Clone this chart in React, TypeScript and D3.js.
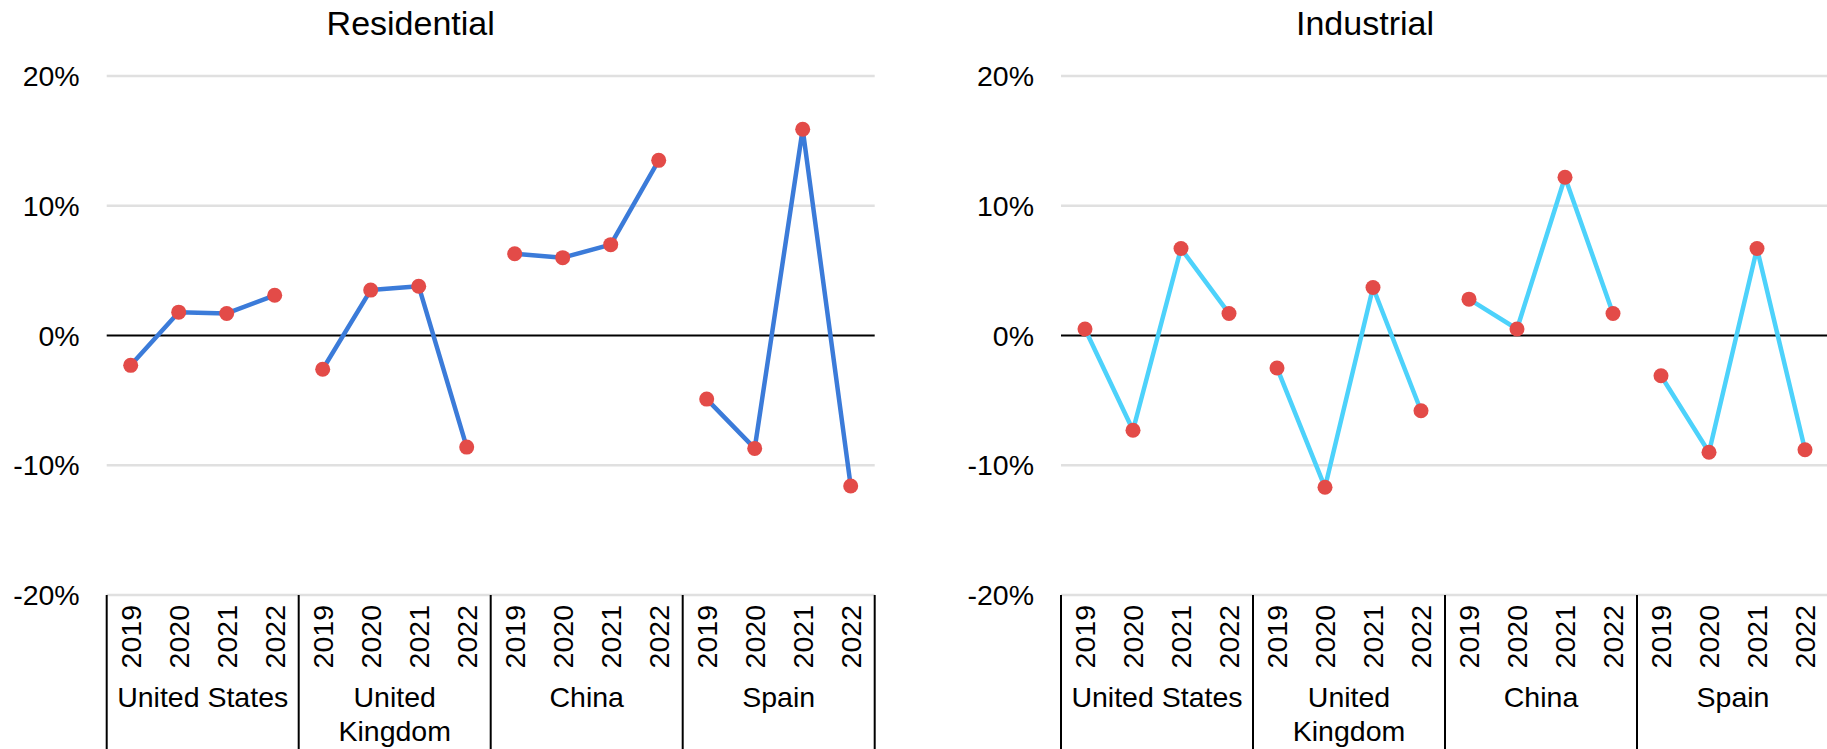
import React from "react";
import * as d3 from "d3";

const countries = ["United States", "United Kingdom", "China", "Spain"];
const countryLines = [["United States"], ["United", "Kingdom"], ["China"], ["Spain"]];
const years = ["2019", "2020", "2021", "2022"];
const yTicks = [20, 10, 0, -10, -20];

const residential = [
  [-2.3, 1.8, 1.7, 3.1],
  [-2.6, 3.5, 3.8, -8.6],
  [6.3, 6.0, 7.0, 13.5],
  [-4.9, -8.7, 15.9, -11.6],
];
const industrial = [
  [0.5, -7.3, 6.7, 1.7],
  [-2.5, -11.7, 3.7, -5.8],
  [2.8, 0.5, 12.2, 1.7],
  [-3.1, -9.0, 6.7, -8.8],
];

const FONT = "'Liberation Sans', Arial, sans-serif";

function Panel({ title, data, left, color }: { title: string; data: number[][]; left: number; color: string }) {
  const width = 768;
  const top = 76;
  const bottom = 595;
  const keys = countries.flatMap((c) => years.map((y) => c + "|" + y));
  const x = d3.scaleBand<string>().domain(keys).range([left, left + width]).padding(0);
  const y = d3.scaleLinear().domain([-20, 20]).range([bottom, top]);
  const line = d3
    .line<{ k: string; v: number }>()
    .x((d) => (x(d.k) as number) + x.bandwidth() / 2)
    .y((d) => y(d.v));
  const groupW = x.bandwidth() * years.length;
  return (
    <g>
      <text x={left + 304} y={35} fontSize={34} textAnchor="middle" fontFamily={FONT} fill="#000">
        {title}
      </text>
      {yTicks.map((t) => (
        <g key={t}>
          <line
            x1={left}
            x2={left + width}
            y1={y(t)}
            y2={y(t)}
            stroke={t === 0 ? "#000" : "#e0e0e0"}
            strokeWidth={t === 0 ? 2 : 2.6}
          />
          <text x={left - 27} y={y(t) + 10} fontSize={28.5} textAnchor="end" fontFamily={FONT} fill="#000">
            {t + "%"}
          </text>
        </g>
      ))}
      {countries.map((c, ci) => {
        const x0 = x(c + "|" + years[0]) as number;
        return (
          <g key={c}>
            <line x1={x0} x2={x0} y1={bottom} y2={749} stroke="#000" strokeWidth={2} />
            {ci === countries.length - 1 && (
              <line x1={x0 + groupW} x2={x0 + groupW} y1={bottom} y2={749} stroke="#000" strokeWidth={2} />
            )}
            {years.map((yr) => {
              const cx = (x(c + "|" + yr) as number) + x.bandwidth() / 2;
              return (
                <text
                  key={yr}
                  transform={`translate(${cx + 10},${605}) rotate(-90)`}
                  fontSize={28.5}
                  textAnchor="end"
                  fontFamily={FONT}
                  fill="#000"
                >
                  {yr}
                </text>
              );
            })}
            {countryLines[ci].map((w, li) => (
              <text
                key={w}
                x={x0 + groupW / 2}
                y={707 + li * 34}
                fontSize={28.5}
                textAnchor="middle"
                fontFamily={FONT}
                fill="#000"
              >
                {w}
              </text>
            ))}
          </g>
        );
      })}
      {countries.map((c, ci) => {
        const pts = years.map((yr, yi) => ({ k: c + "|" + yr, v: data[ci][yi] }));
        return (
          <g key={"s" + c}>
            <path d={line(pts) as string} fill="none" stroke={color} strokeWidth={4.5} strokeLinejoin="round" />
            {pts.map((p) => (
              <circle key={p.k} cx={(x(p.k) as number) + x.bandwidth() / 2} cy={y(p.v)} r={7.5} fill="#e34b48" />
            ))}
          </g>
        );
      })}
    </g>
  );
}

export default function App() {
  return (
    <svg
      width={1827}
      height={749}
      style={{ position: "fixed", left: 0, top: 0, background: "#fff" }}
    >
      <rect width={1827} height={749} fill="#fff" />
      <Panel title="Residential" data={residential} left={106.7} color="#3b7bd9" />
      <Panel title="Industrial" data={industrial} left={1061} color="#4dd2fb" />
    </svg>
  );
}
